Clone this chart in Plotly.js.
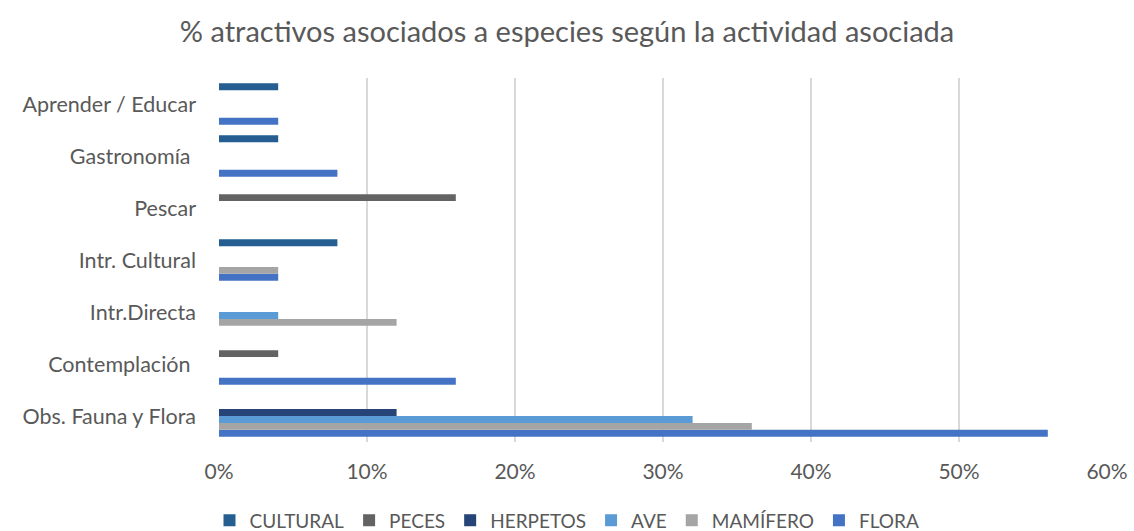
<!DOCTYPE html>
<html>
<head>
<meta charset="utf-8">
<script src="https://cdn.plot.ly/plotly-3.0.1.min.js"></script>
<style>body{margin:0;padding:0;background:#fff;}#chart{width:1134px;height:531px;}</style>
</head>
<body>
<div id="chart"></div>
<script>
const categories = ["Obs. Fauna y Flora", "Contemplación ", "Intr.Directa", "Intr. Cultural", "Pescar", "Gastronomía ", "Aprender / Educar"];
const flora    = [0.56, 0.16, 0,    0.04, 0,    0.08, 0.04];
const mamifero = [0.36, 0,    0.12, 0.04, 0,    0,    0];
const ave      = [0.32, 0,    0.04, 0,    0,    0,    0];
const herpetos = [0.12, 0,    0,    0,    0,    0,    0];
const peces    = [0,    0.04, 0,    0,    0.16, 0,    0];
const cultural = [0,    0,    0,    0.08, 0,    0.04, 0.04];
const seriesNames = ["FLORA", "MAMÍFERO", "AVE", "HERPETOS", "PECES", "CULTURAL"];
const seriesValues = [flora, mamifero, ave, herpetos, peces, cultural];
const colors = ["#4472C4", "#A5A5A5", "#5B9BD5", "#264478", "#636363", "#255E91"];
const xTicks = [0, 0.1, 0.2, 0.3, 0.4, 0.5, 0.6];
const xTickText = ["0%", "10%", "20%", "30%", "40%", "50%", "60%"];

const traces = seriesNames.map((n, i) => ({
  type: 'bar', orientation: 'h', name: n,
  x: seriesValues[i], y: categories,
  marker: {color: colors[i]},
  hoverinfo: 'x+name'
}));

const font = {family: "Lato, 'Open Sans', sans-serif", color: '#595959'};
const layout = {
  width: 1134, height: 531,
  margin: {l: 219, r: 27, t: 78, b: 89},
  paper_bgcolor: '#fff', plot_bgcolor: '#fff',
  barmode: 'group', bargap: 0.2, bargroupgap: 0,
  font: Object.assign({size: 19}, font),
  title: {text: '% atractivos asociados a especies según la actividad asociada',
          font: Object.assign({}, font, {size: 29}), x: 0.5, xanchor: 'center', y: 0.94, yanchor: 'middle', yref: 'container'},
  xaxis: {range: [0, 0.6], tickvals: xTicks, ticktext: xTickText, showgrid: true, gridcolor: '#D9D9D9', gridwidth: 1.5,
          zeroline: false, showline: false, ticks: '', ticklabelstandoff: 15, tickfont: Object.assign({size: 21}, font), fixedrange: true},
  yaxis: {categoryorder: 'array', categoryarray: categories, showgrid: false, zeroline: false, showline: false,
          ticks: '', ticklabelstandoff: 22, tickfont: Object.assign({size: 21.5}, font), fixedrange: true},
  legend: {orientation: 'h', traceorder: 'reversed', x: 0.5, xanchor: 'center', xref: 'container',
           y: 0.02, yanchor: 'middle', yref: 'container', font: Object.assign({size: 19}, font), itemwidth: 30},
  showlegend: true
};
Plotly.newPlot('chart', traces, layout, {displayModeBar: false, staticPlot: true});
</script>
</body>
</html>
